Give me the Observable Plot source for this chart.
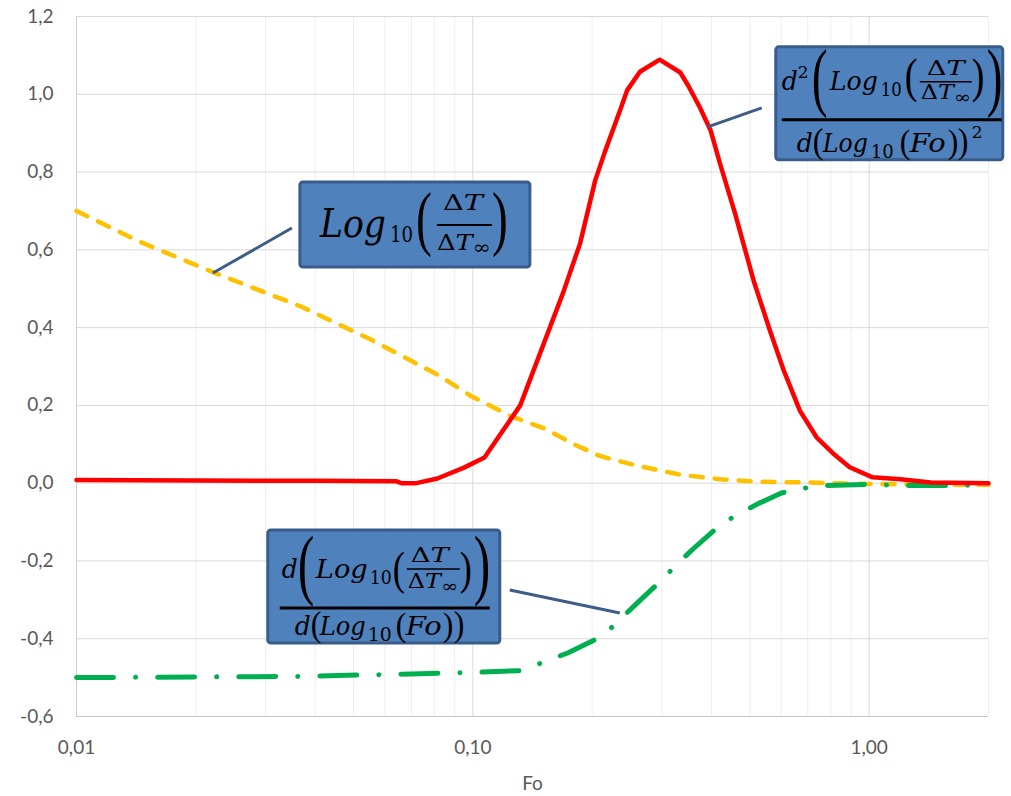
<!DOCTYPE html>
<html><head><meta charset="utf-8">
<script src="https://cdn.jsdelivr.net/npm/d3@7"></script>
<script src="https://cdn.jsdelivr.net/npm/@observablehq/plot@0.6"></script>
<style>body{margin:0;background:#fff;}</style>
</head><body><div id="chart"></div>
<script>
// ---- data ----
const redFo  = [0.01, 0.02, 0.04, 0.064, 0.066, 0.072, 0.0814, 0.095, 0.107, 0.1317, 0.169, 0.1864, 0.2035, 0.215, 0.2355, 0.245, 0.264, 0.296, 0.3337, 0.3496, 0.374, 0.398, 0.4203, 0.4589, 0.5113, 0.562, 0.6086, 0.6681, 0.7366, 0.8098, 0.893, 1.02, 1.2, 1.43, 2.0];
const redVal = [0.008, 0.007, 0.006, 0.005, 0.0, 0.0, 0.012, 0.04, 0.066, 0.20, 0.49, 0.616, 0.778, 0.85, 0.96, 1.01, 1.058, 1.089, 1.056, 1.022, 0.966, 0.907, 0.822, 0.693, 0.52, 0.392, 0.29, 0.187, 0.118, 0.077, 0.041, 0.015, 0.01, 0.002, 0.0];

const yellowFo  = [0.01, 0.0145, 0.0224, 0.0367, 0.0551, 0.0828, 0.0985, 0.1243, 0.152, 0.18, 0.209, 0.257, 0.333, 0.421, 0.52, 0.67, 1.0, 1.2, 1.7, 2.0];
const yellowVal = [0.70, 0.62, 0.54, 0.455, 0.37, 0.275, 0.225, 0.173, 0.14, 0.10, 0.07, 0.046, 0.022, 0.01, 0.004, 0.002, -0.002, -0.003, -0.004, -0.004];

const greenFo  = [0.01, 0.036, 0.0737, 0.1045, 0.1317, 0.1548, 0.174, 0.2135, 0.2334, 0.2558, 0.3003, 0.3282, 0.3605, 0.4225, 0.4704, 0.5264, 0.5985, 0.65, 0.766, 1.0, 1.2, 1.6, 2.0];
const greenVal = [-0.50, -0.497, -0.49, -0.486, -0.482, -0.456, -0.436, -0.392, -0.353, -0.315, -0.248, -0.207, -0.168, -0.106, -0.078, -0.052, -0.026, -0.016, -0.006, -0.003, -0.006, -0.006, -0.005];

const xTicks = [0.01, 0.1, 1];
const xTickLabels = ["0,01", "0,10", "1,00"];
const yTicks = [-0.6, -0.4, -0.2, 0, 0.2, 0.4, 0.6, 0.8, 1.0, 1.2];
const yTickLabels = ["-0,6", "-0,4", "-0,2", "0,0", "0,2", "0,4", "0,6", "0,8", "1,0", "1,2"];
const minorX = [0.02,0.03,0.04,0.05,0.06,0.07,0.08,0.09,0.2,0.3,0.4,0.5,0.6,0.7,0.8,0.9,2];
const xLabel = "Fo";

const rows = (fo, v) => fo.map((f, i) => ({fo: f, v: v[i]}));
const FONT = "Lato, 'Open Sans', sans-serif";
const MATH = "'DejaVu Serif', serif";
const PAREN = "'Liberation Serif', serif";

const plot = Plot.plot({
  width: 1011, height: 796,
  marginLeft: 76, marginRight: 23, marginTop: 16, marginBottom: 80,
  style: {fontFamily: FONT, fontSize: "19px", color: "#595959", background: "#fff", overflow: "visible"},
  x: {type: "log", domain: [0.01, 2]},
  y: {domain: [-0.6, 1.2]},
  marks: [
    Plot.ruleX(minorX, {stroke: "#efefef", strokeWidth: 1}),
    Plot.ruleX(xTicks, {stroke: "#d9d9d9", strokeWidth: 1}),
    Plot.ruleY(yTicks, {stroke: "#d9d9d9", strokeWidth: 1}),
    Plot.ruleX([0.01], {stroke: "#d0d0d0", strokeWidth: 1}),
    Plot.ruleY([-0.6], {stroke: "#c4c4c4", strokeWidth: 1.2}),
    Plot.axisX(xTicks, {tickSize: 0, tickPadding: 24, label: null, fill: "#595959",
      tickFormat: d => xTickLabels[xTicks.indexOf(d)]}),
    Plot.axisY(yTicks, {tickSize: 0, tickPadding: 23, label: null, fill: "#595959",
      tickFormat: d => yTickLabels[yTicks.indexOf(d)]}),
    Plot.text([xLabel], {frameAnchor: "bottom", dy: 67, lineAnchor: "middle", fill: "#595959", fontSize: 19, text: d => d}),
    Plot.line(rows(yellowFo, yellowVal), {x: "fo", y: "v", stroke: "#ffc000", strokeWidth: 4.5, strokeDasharray: "12,12", strokeLinecap: "round", strokeLinejoin: "round"}),
    Plot.line(rows(greenFo, greenVal), {x: "fo", y: "v", stroke: "#00b050", strokeWidth: 5, strokeDasharray: "37,22,0.1,22", strokeLinecap: "round", strokeLinejoin: "round"}),
    Plot.line(rows(redFo, redVal), {x: "fo", y: "v", stroke: "#ff0000", strokeWidth: 4.5, strokeLinejoin: "round"})
  ]
});
document.getElementById("chart").appendChild(plot);

// ---- annotations (callouts with formulas) ----
const sx = plot.scale("x"), sy = plot.scale("y");
const svg = d3.select(plot);
const layer = svg.append("g").attr("text-anchor", "start");

function txt(g, parts, x, y, size, opts = {}) {
  const t = g.append("text").attr("x", x).attr("y", y).attr("font-size", size)
    .attr("font-family", MATH).attr("fill", "#000").attr("text-anchor", opts.anchor || "start");
  if (opts.len) t.attr("textLength", opts.len).attr("lengthAdjust", "spacingAndGlyphs");
  for (const p of parts) {
    const s = t.append("tspan").text(p.t);
    if (p.it) s.attr("font-style", "italic");
    if (p.size) s.attr("font-size", p.size);
    if (p.dy) s.attr("dy", p.dy);
  }
  return t;
}
function paren(g, ch, x, top, bot, k = 1.6) {
  const fs = (bot - top) / (0.87 * k);
  g.append("text").attr("transform", `translate(${x},${bot - 0.19 * fs * k}) scale(1,${k})`)
    .attr("text-anchor", "start")
    .attr("font-size", fs).attr("font-family", PAREN).attr("fill", "#000").text(ch);
}
function hline(g, x1, x2, y, w) {
  g.append("line").attr("x1", x1).attr("x2", x2).attr("y1", y).attr("y2", y)
    .attr("stroke", "#000").attr("stroke-width", w);
}
const it = t => ({t, it: true});
const up = t => ({t});
function dT(g, cx, y, size, len) { txt(g, [up("Δ"), it("T")], cx, y, size, {anchor: "middle", len}); }
function dTinf(g, cx, y, size, len) { txt(g, [up("Δ"), it("T"), {t: "∞", size: size * 0.85, dy: 4}], cx, y, size, {anchor: "middle", len}); }

function formula1(g) { // second derivative
  txt(g, [it("d")], 6, 43, 26, {len: 16});
  txt(g, [up("2")], 22, 31, 17);
  paren(g, "(", 36, 4, 70);
  txt(g, [it("Log")], 54, 43, 26, {len: 48});
  txt(g, [up("10")], 105, 49, 18, {len: 21});
  paren(g, "(", 129, 12, 55, 1.3);
  dT(g, 170, 28, 20, 38);
  hline(g, 144, 196, 35, 1.5);
  dTinf(g, 170, 52, 20, 50);
  paren(g, ")", 196, 12, 55, 1.3);
  paren(g, ")", 211, 4, 70);
  hline(g, 6, 226, 73, 3);
  txt(g, [it("d")], 21, 105, 26, {len: 16});
  paren(g, "(", 37, 81, 113, 1.15);
  txt(g, [it("Log")], 47, 105, 26, {len: 45});
  txt(g, [up("10")], 95, 111, 18, {len: 23});
  paren(g, "(", 124, 83, 112, 1.05);
  txt(g, [it("Fo")], 134, 105, 26, {len: 36});
  paren(g, ")", 172, 83, 112, 1.05);
  paren(g, ")", 182, 81, 113, 1.15);
  txt(g, [up("2")], 196, 91, 17);
}
function formula2(g) { // log ratio
  txt(g, [it("Log")], 20, 55, 40, {len: 66});
  txt(g, [up("10")], 90, 60, 23, {len: 23});
  paren(g, "(", 116, 11, 73, 1.5);
  dT(g, 163, 28, 23, 40);
  hline(g, 137, 192, 43, 2);
  dTinf(g, 164, 68, 23, 54);
  paren(g, ")", 192, 11, 73, 1.5);
}
function formula3(g) { // first derivative
  txt(g, [it("d")], 14, 48, 26, {len: 16});
  paren(g, "(", 30, 6, 75);
  txt(g, [it("Log")], 48, 48, 26, {len: 52});
  txt(g, [up("10")], 102, 54, 18, {len: 22});
  paren(g, "(", 125, 22, 63, 1.3);
  dT(g, 162, 32, 20, 38);
  hline(g, 139, 192, 39, 1.5);
  dTinf(g, 165, 58, 20, 50);
  paren(g, ")", 192, 22, 63, 1.3);
  paren(g, ")", 206, 6, 75);
  hline(g, 12, 222, 78, 3);
  txt(g, [it("d")], 27, 105, 26, {len: 16});
  paren(g, "(", 43, 81, 113, 1.15);
  txt(g, [it("Log")], 52, 105, 26, {len: 46});
  txt(g, [up("10")], 100, 111, 18, {len: 24});
  paren(g, "(", 128, 83, 112, 1.05);
  txt(g, [it("Fo")], 138, 105, 26, {len: 36});
  paren(g, ")", 175, 83, 112, 1.05);
  paren(g, ")", 186, 81, 113, 1.15);
}

const callouts = [
  {fo: 0.3926, v: 0.915, leader: [54, -19], box: [68, -80, 227, 113], draw: formula1},
  {fo: 0.02215, v: 0.539, leader: [79, -45], box: [87, -91, 230, 85], draw: formula2},
  {fo: 0.2355, v: -0.335, leader: [-110, -23], box: [-352, -83, 232, 113], draw: formula3}
];
for (const c of callouts) {
  const ax = sx.apply(c.fo), ay = sy.apply(c.v);
  layer.append("line").attr("x1", ax).attr("y1", ay)
    .attr("x2", ax + c.leader[0]).attr("y2", ay + c.leader[1])
    .attr("stroke", "#3d5c88").attr("stroke-width", 3);
  const g = layer.append("g").attr("transform", `translate(${ax + c.box[0]},${ay + c.box[1]})`);
  g.append("rect").attr("x", 0).attr("y", 0).attr("width", c.box[2]).attr("height", c.box[3])
    .attr("rx", 3).attr("fill", "#4f81bd").attr("stroke", "#385d8a").attr("stroke-width", 3);
  c.draw(g);
}
</script>
</body></html>
